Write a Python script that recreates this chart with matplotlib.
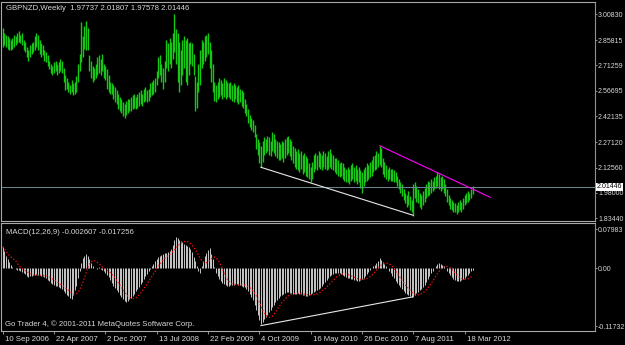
import numpy as np
import pandas as pd
import matplotlib
matplotlib.use("Agg")
import matplotlib.pyplot as plt
import matplotlib.transforms as mtransforms

symbol_title = "GBPNZD,Weekly  1.97737 2.01807 1.97578 2.01446"
macd_title = "MACD(12,26,9) -0.002607 -0.017256"
copyright_text = "Go Trader 4, \u00a9 2001-2011 MetaQuotes Software Corp."

# weekly bars, 10 Sep 2006 .. Apr 2012
highs = [
    2.93, 2.90, 2.89, 2.88, 2.87, 2.86, 2.87, 2.89, 2.88, 2.90, 2.91, 2.89, 2.90,
    2.86, 2.85, 2.82, 2.80, 2.83, 2.84, 2.85, 2.88, 2.90, 2.89,
    2.86, 2.84, 2.83, 2.80, 2.79,
    2.77, 2.74, 2.72, 2.71, 2.73, 2.74, 2.72, 2.73,
    2.75, 2.74, 2.70, 2.66, 2.64,
    2.62, 2.60, 2.63, 2.61, 2.62, 2.65,
    2.72, 2.78, 2.96, 2.88, 2.94, 2.97,
    2.93, 2.77, 2.74, 2.71, 2.70, 2.72,
    2.76, 2.77, 2.75, 2.78, 2.72, 2.71,
    2.69, 2.66, 2.62, 2.61, 2.60, 2.59, 2.57,
    2.55, 2.53, 2.52, 2.50, 2.49, 2.51, 2.52,
    2.52, 2.53, 2.54, 2.55, 2.53, 2.55, 2.56, 2.57, 2.55,
    2.58, 2.59, 2.57, 2.58, 2.61, 2.62, 2.63, 2.64,
    2.68, 2.76, 2.77, 2.72, 2.70,
    2.74, 2.86, 2.84, 2.87, 2.85, 2.90,
    3.01, 2.92, 2.90, 2.85, 2.80, 2.86,
    2.88, 2.86, 2.87, 2.84, 2.85, 2.84,
    2.78, 2.65, 2.62,
    2.72, 2.80, 2.86, 2.85, 2.88,
    2.89, 2.90, 2.85,
    2.80, 2.72, 2.62,
    2.60, 2.62, 2.64, 2.63, 2.61, 2.64, 2.63, 2.62,
    2.61, 2.62, 2.60, 2.61, 2.60, 2.59, 2.60, 2.58, 2.57, 2.56,
    2.52, 2.49, 2.46, 2.43, 2.41, 2.40,
    2.37, 2.32, 2.29, 2.27, 2.25, 2.28,
    2.30, 2.29, 2.31, 2.30, 2.28, 2.33, 2.32, 2.29,
    2.28, 2.27, 2.26, 2.28, 2.27, 2.29, 2.30, 2.31, 2.29, 2.28,
    2.25, 2.24, 2.22, 2.23, 2.21, 2.22, 2.20, 2.21, 2.19, 2.18,
    2.15, 2.13, 2.16, 2.20, 2.21, 2.20,
    2.22, 2.21, 2.20, 2.22, 2.21, 2.19, 2.22, 2.23, 2.21, 2.20, 2.18,
    2.18, 2.17, 2.15, 2.16, 2.15, 2.13, 2.12,
    2.13, 2.12, 2.14, 2.15, 2.13, 2.14, 2.12, 2.13,
    2.11, 2.10, 2.12, 2.13, 2.15, 2.14,
    2.16, 2.17, 2.19, 2.20, 2.22, 2.21, 2.25, 2.24,
    2.18, 2.16, 2.14, 2.12, 2.13, 2.12,
    2.12, 2.11, 2.10, 2.08, 2.06, 2.04, 2.03,
    2.00, 1.98, 1.97, 1.99, 1.96, 1.94, 2.03,
    2.04, 2.02, 2.00, 1.98, 1.97, 1.99,
    2.01, 2.03, 2.05, 2.04, 2.06, 2.05, 2.07,
    2.08, 2.10, 2.09, 2.07, 2.08, 2.06,
    2.03, 2.00, 1.97, 1.95, 1.94, 1.93,
    1.92, 1.91, 1.93, 1.94, 1.93, 1.95,
    1.97, 1.98, 1.99, 1.98, 2.00, 2.01807,
]
lows = [
    2.82, 2.83, 2.82, 2.81, 2.80, 2.80, 2.81, 2.82, 2.83, 2.84, 2.85, 2.84, 2.83,
    2.80, 2.79, 2.76, 2.74, 2.76, 2.78, 2.79, 2.80, 2.82, 2.80,
    2.78, 2.76, 2.77, 2.74, 2.73,
    2.71, 2.69, 2.67, 2.66, 2.67, 2.68, 2.66, 2.67,
    2.68, 2.67, 2.62, 2.57, 2.58,
    2.56, 2.55, 2.56, 2.54, 2.55, 2.56,
    2.62, 2.68, 2.73, 2.76, 2.81, 2.80,
    2.80, 2.68, 2.64, 2.62, 2.63, 2.64,
    2.66, 2.67, 2.66, 2.68, 2.64, 2.63,
    2.58, 2.56, 2.55, 2.55, 2.52, 2.50, 2.49,
    2.46, 2.45, 2.44, 2.42, 2.41, 2.43, 2.44,
    2.45, 2.45, 2.46, 2.47, 2.46, 2.47, 2.48, 2.49, 2.48,
    2.50, 2.51, 2.50, 2.51, 2.53, 2.54, 2.55, 2.56,
    2.60, 2.64, 2.66, 2.62, 2.58,
    2.62, 2.70, 2.68, 2.72, 2.70, 2.75,
    2.79, 2.72, 2.62, 2.56, 2.60, 2.66,
    2.70, 2.62, 2.60, 2.66, 2.72, 2.71,
    2.66, 2.45, 2.47,
    2.56, 2.60, 2.70, 2.72, 2.74,
    2.76, 2.78, 2.70,
    2.62, 2.56, 2.51,
    2.50, 2.52, 2.53, 2.54, 2.52, 2.53, 2.52, 2.53,
    2.53, 2.52, 2.51, 2.50, 2.52, 2.50, 2.49, 2.50, 2.48, 2.47,
    2.44, 2.42, 2.38, 2.36, 2.34, 2.33,
    2.30, 2.23, 2.20, 2.15, 2.13, 2.16,
    2.20, 2.21, 2.22, 2.20, 2.19, 2.22, 2.21, 2.19,
    2.18, 2.17, 2.17, 2.18, 2.16, 2.18, 2.20, 2.21, 2.19, 2.17,
    2.15, 2.13, 2.12, 2.11, 2.10, 2.12, 2.09, 2.10, 2.08, 2.07,
    2.06, 2.04, 2.06, 2.10, 2.12, 2.11,
    2.13, 2.12, 2.11, 2.13, 2.12, 2.11, 2.12, 2.13, 2.12, 2.11, 2.10,
    2.09, 2.08, 2.07, 2.08, 2.06, 2.05, 2.04,
    2.04, 2.03, 2.05, 2.06, 2.04, 2.05, 2.03, 2.04,
    2.01, 1.98, 2.02, 2.04, 2.05, 2.06,
    2.07, 2.08, 2.10, 2.11, 2.12, 2.13, 2.14, 2.13,
    2.09, 2.07, 2.06, 2.05, 2.06, 2.05,
    2.05, 2.04, 2.04, 2.02, 2.00, 1.98, 1.96,
    1.94, 1.92, 1.90, 1.91, 1.88, 1.87, 1.85,
    1.95, 1.93, 1.92, 1.90, 1.89, 1.91,
    1.93, 1.95, 1.96, 1.97, 1.98, 1.99, 2.00,
    2.01, 2.02, 2.00, 1.99, 2.00, 1.98,
    1.96, 1.93, 1.91, 1.89, 1.88, 1.87,
    1.87, 1.86, 1.87, 1.88, 1.87, 1.89,
    1.91, 1.92, 1.93, 1.94, 1.95, 1.97578,
]
last_close = 2.01446

macd = [
    0.044, 0.035, 0.025, 0.018, 0.012, 0.007,
    0.003, 0.000, -0.002, -0.003, -0.004,
    -0.006, -0.008, -0.010, -0.012, -0.015, -0.017,
    -0.016, -0.015, -0.014, -0.013, -0.012, -0.013, -0.014, -0.015, -0.016, -0.018,
    -0.020, -0.023, -0.026, -0.029, -0.031, -0.033, -0.035, -0.036, -0.038,
    -0.040, -0.043, -0.046, -0.050, -0.054, -0.057, -0.060, -0.062,
    -0.055, -0.045, -0.035, -0.020, -0.005,
    0.010, 0.020, 0.025, 0.029, 0.026,
    0.018, 0.010, 0.004, 0.001, 0.000, -0.001, 0.002,
    -0.002, -0.004, -0.006, -0.009,
    -0.013, -0.018, -0.023, -0.029, -0.035, -0.040, -0.045, -0.049,
    -0.054, -0.058, -0.062, -0.066, -0.068, -0.066,
    -0.063, -0.060, -0.056, -0.052, -0.047, -0.042, -0.037, -0.032, -0.027,
    -0.021, -0.016, -0.011, -0.006, -0.002,
    0.004, 0.009, 0.014, 0.018, 0.022,
    0.025, 0.027, 0.029, 0.031, 0.032, 0.034, 0.036, 0.040, 0.048, 0.058,
    0.064, 0.062, 0.058,
    0.055, 0.053, 0.050, 0.047, 0.045, 0.043, 0.040,
    0.033, 0.024, 0.014,
    0.004, -0.006, -0.010,
    0.005, 0.015, 0.025, 0.032,
    0.038, 0.041, 0.030, 0.018,
    0.002, -0.010, -0.016,
    -0.021, -0.025, -0.029, -0.032, -0.034,
    -0.035, -0.035, -0.034, -0.034, -0.033, -0.032, -0.032, -0.033, -0.034, -0.035, -0.037, -0.038,
    -0.042, -0.047, -0.053, -0.059,
    -0.065, -0.074, -0.084, -0.095,
    -0.106, -0.114,
    -0.110, -0.104, -0.099, -0.094,
    -0.089, -0.084, -0.079, -0.074, -0.069, -0.065,
    -0.061, -0.057, -0.054, -0.052, -0.050, -0.049, -0.049, -0.050,
    -0.051, -0.052, -0.053, -0.052, -0.051, -0.052, -0.053,
    -0.054, -0.055, -0.056, -0.056, -0.055, -0.053,
    -0.051, -0.049, -0.047, -0.045, -0.043, -0.040,
    -0.036, -0.032, -0.028, -0.024, -0.020, -0.016,
    -0.013, -0.011, -0.010, -0.009, -0.009, -0.010, -0.011,
    -0.013, -0.015, -0.017, -0.019, -0.020, -0.021, -0.022,
    -0.023, -0.024, -0.025, -0.025, -0.024, -0.022,
    -0.019, -0.016, -0.012, -0.008, -0.004,
    0.000, 0.004, 0.007, 0.010, 0.014, 0.020,
    0.016, 0.012, 0.008, 0.004, 0.000,
    -0.005, -0.010, -0.015, -0.020, -0.025, -0.030,
    -0.034, -0.038, -0.042, -0.046, -0.050, -0.053,
    -0.055, -0.057, -0.058, -0.057,
    -0.054, -0.051, -0.048, -0.045, -0.042,
    -0.038, -0.033, -0.028, -0.022, -0.016,
    -0.010, -0.005, 0.000, 0.005,
    0.009, 0.010, 0.008, 0.006, 0.004,
    0.000, -0.005, -0.010, -0.014, -0.018,
    -0.021, -0.023, -0.025, -0.026, -0.025, -0.024,
    -0.022, -0.019, -0.016, -0.013, -0.010, -0.006, -0.002607,
]

date_labels = ["10 Sep 2006", "22 Apr 2007", "2 Dec 2007", "13 Jul 2008",
               "22 Feb 2009", "4 Oct 2009", "16 May 2010", "26 Dec 2010",
               "7 Aug 2011", "18 Mar 2012"]
date_step = 32  # weeks between labels

price_ticks = [3.00830, 2.85815, 2.71259, 2.56695, 2.42135,
               2.27120, 2.12560, 1.98000, 1.83440]
macd_ticks = [0.07983, 0.0, -0.11732]
macd_tick_labels = ["0.07983", "0.00", "-0.11732"]

# hand drawn trendlines: (bar, value)
upper_trend = [(235, 2.2514), (304, 1.955)]
lower_trend = [(161, 2.1273), (256, 1.8514)]
macd_trend = [(161, -0.1165), (256, -0.0578)]

plt.rcParams["font.family"] = ["Liberation Sans", "DejaVu Sans"]
FS = 5.6
FS_SCALE = 5.0
TXT = "#d8d8d8"
GRID = "#a8a8a8"

W, H = 625, 345
fig = plt.figure(figsize=(W / 100, H / 100), dpi=100, facecolor="black")


def px_axes(x0, y0, x1, y1):
    return fig.add_axes([x0 / W, 1 - y1 / H, (x1 - x0) / W, (y1 - y0) / H])


ax1 = px_axes(1.5, 2, 595, 221)
ax2 = px_axes(1.5, 223, 595, 331)

n = min(len(highs), len(lows))
x = np.arange(n)
ax1.vlines(x, lows[:n], highs[:n], color="#14c814", lw=1.0)
ax1.axhline(last_close, color="#6a8a94", lw=0.7)
ax1.plot(*zip(*upper_trend), color="#ff00ff", lw=0.8)
ax1.plot(*zip(*lower_trend), color="#e8e8e8", lw=0.8)

xm = np.arange(len(macd))
signal = pd.Series(macd).rolling(9, min_periods=1).mean()
ax2.vlines(xm, 0, macd, color="#c8c8c8", lw=0.7)
ax2.plot(xm, signal, color="#ff1010", lw=0.9, ls=(0, (1, 1.6)))
ax2.plot(*zip(*macd_trend), color="#e8e8e8", lw=0.8)

for ax in (ax1, ax2):
    ax.set_facecolor("black")
    ax.set_xlim(-0.75, 369.3)
    ax.yaxis.tick_right()
    ax.tick_params(axis="y", length=1.6, width=0.6, color=GRID,
                   labelcolor=TXT, labelsize=FS_SCALE, pad=0.6)
    for side in ("left", "top", "bottom"):
        ax.spines[side].set_color(GRID)
        ax.spines[side].set_linewidth(0.8)
    ax.spines["right"].set_color("#9a9278")
    ax.spines["right"].set_linewidth(0.8)

ax1.set_ylim(1.8187, 3.0773)
ax1.set_yticks(price_ticks, [f"{t:.5f}" for t in price_ticks])
ax1.set_xticks([])

ax2.set_ylim(-0.1274, 0.0921)
ax2.set_yticks(macd_ticks, macd_tick_labels)
ax2.set_xticks(np.arange(len(date_labels)) * date_step, date_labels)
ax2.tick_params(axis="x", length=2.5, width=0.6, color=GRID,
                labelcolor=TXT, labelsize=FS, pad=1)
shift = mtransforms.ScaledTranslation(2 / 100, 0, fig.dpi_scale_trans)
for lbl in ax2.get_xticklabels():
    lbl.set_ha("left")
    lbl.set_transform(lbl.get_transform() + shift)

# current price box on the price scale
tr = mtransforms.blended_transform_factory(ax1.transAxes, ax1.transData)
ax1.text(1.003, last_close, f"{last_close:.5f}", transform=tr, ha="left",
         va="center", fontsize=FS_SCALE, color="black", zorder=5,
         clip_on=False,
         bbox=dict(facecolor="white", edgecolor="none", pad=0.5))

fig.text(6 / W, 1 - 8 / H, symbol_title, color=TXT, fontsize=FS, va="center")
fig.text(6 / W, 1 - 232 / H, macd_title, color=TXT, fontsize=FS, va="center")
fig.text(5 / W, 1 - 324 / H, copyright_text, color=TXT, fontsize=FS,
         va="center")

fig.savefig("out.png", dpi=100, facecolor="black")
